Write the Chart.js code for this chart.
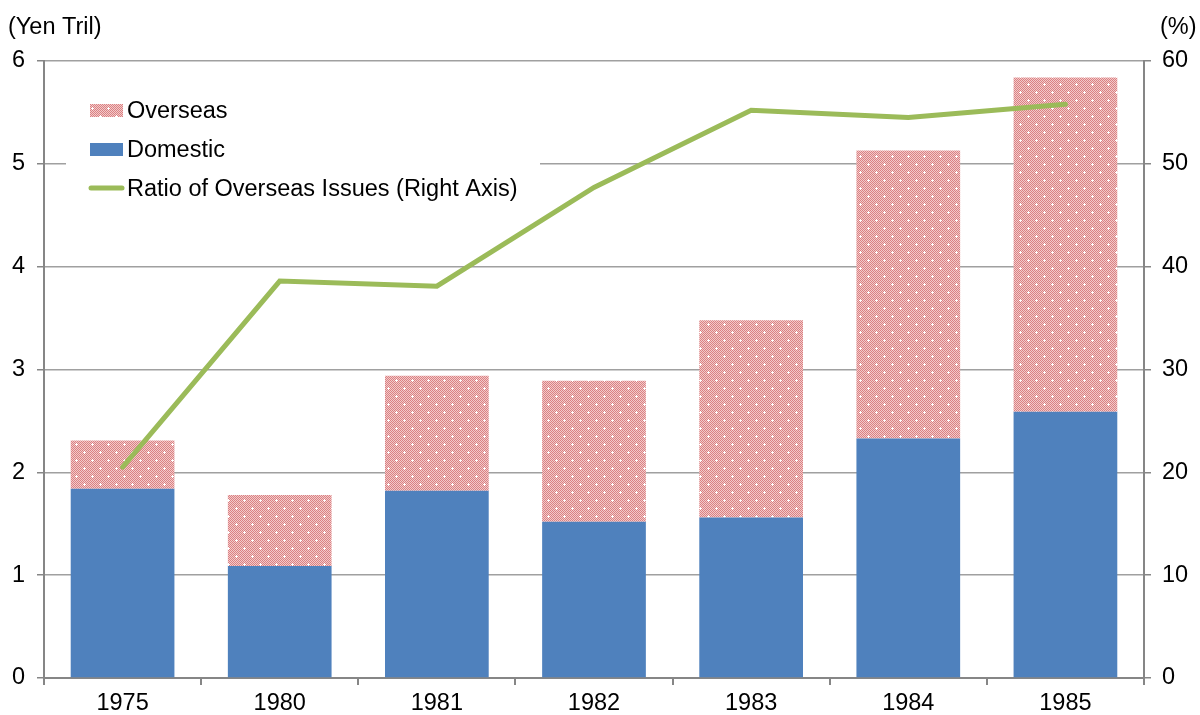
<!DOCTYPE html>
<html>
<head>
<meta charset="utf-8">
<script src="https://cdn.jsdelivr.net/npm/chart.js@4/dist/chart.umd.min.js"></script>
<style>
  html, body { margin: 0; padding: 0; background: #fff; }
  #wrap { position: relative; width: 1200px; height: 715px; }
</style>
</head>
<body>
<div id="wrap"><canvas id="c" width="1200" height="715"></canvas></div>
<script>
// Issues by year, yen trillions (bars) and overseas share, % (line)
const years = ['1975', '1980', '1981', '1982', '1983', '1984', '1985'];
const domestic = [1.84, 1.09, 1.82, 1.52, 1.56, 2.33, 2.59];
const overseas = [0.47, 0.69, 1.12, 1.37, 1.92, 2.80, 3.25];
const overseasRatio = [20.5, 38.6, 38.1, 47.7, 55.2, 54.5, 55.8];
const leftTicks = [0, 1, 2, 3, 4, 5, 6];
const rightTicks = [0, 10, 20, 30, 40, 50, 60];

const FONT = '"Liberation Sans", Arial, sans-serif';
const FS = 23.5;
const BLUE = '#4f81bd';
const GREEN = '#9bbb59';
const AXIS = '#868686';

// Dotted pink fill for the overseas bars
function makePattern() {
  const t = document.createElement('canvas');
  t.width = 16; t.height = 16;
  const g = t.getContext('2d');
  for (let y = 0; y < 16; y++) {
    for (let x = 0; x < 16; x++) {
      g.fillStyle = ((x + y) % 2 === 0) ? '#da8183' : '#f3caca';
      g.fillRect(x, y, 1, 1);
    }
  }
  g.fillStyle = '#ffffff';
  [[4, 4], [12, 12]].forEach(([cx, cy]) => {
    g.fillRect(cx - 1, cy, 3, 1);
    g.fillRect(cx, cy - 1, 1, 3);
  });
  return g.createPattern(t, 'repeat');
}
const pinkPattern = makePattern();

// Legend box drawn inside the plot area, plus the two axis unit captions
const overlay = {
  id: 'overlay',
  afterDraw(chart) {
    const ctx = chart.ctx;
    ctx.save();
    ctx.font = FS + 'px ' + FONT;
    ctx.fillStyle = '#000';
    ctx.textBaseline = 'middle';
    ctx.textAlign = 'left';
    ctx.fillText('(Yen Tril)', 8, 28);
    ctx.fillText('(%)', 1160, 28);
    ctx.restore();
  },
  afterDatasetsDraw(chart) {
    const ctx = chart.ctx;
    ctx.save();
    ctx.fillStyle = '#fff';
    ctx.fillRect(66, 86, 474, 120);
    const items = [
      { label: 'Overseas', kind: 'pattern', y: 110 },
      { label: 'Domestic', kind: 'blue', y: 149 },
      { label: 'Ratio of Overseas Issues (Right Axis)', kind: 'line', y: 188 }
    ];
    ctx.font = FS + 'px ' + FONT;
    ctx.textBaseline = 'middle';
    ctx.textAlign = 'left';
    items.forEach(it => {
      if (it.kind === 'line') {
        ctx.strokeStyle = GREEN;
        ctx.lineWidth = 5;
        ctx.lineCap = 'round';
        ctx.beginPath();
        ctx.moveTo(91, it.y);
        ctx.lineTo(122, it.y);
        ctx.stroke();
      } else {
        ctx.fillStyle = it.kind === 'blue' ? BLUE : pinkPattern;
        ctx.fillRect(90, it.y - 6, 33, 13);
      }
      ctx.fillStyle = '#000';
      ctx.fillText(it.label, 127, it.y + 2);
    });
    ctx.restore();
  }
};

new Chart(document.getElementById('c'), {
  type: 'bar',
  data: {
    labels: years,
    datasets: [
      {
        type: 'line',
        label: 'Ratio of Overseas Issues (Right Axis)',
        data: overseasRatio,
        yAxisID: 'y1',
        borderColor: GREEN,
        backgroundColor: GREEN,
        borderWidth: 5,
        borderCapStyle: 'round',
        borderJoinStyle: 'miter',
        pointRadius: 0,
        tension: 0,
        order: 0
      },
      {
        label: 'Domestic',
        data: domestic,
        backgroundColor: BLUE,
        yAxisID: 'y',
        stack: 's',
        order: 1
      },
      {
        label: 'Overseas',
        data: overseas,
        backgroundColor: pinkPattern,
        yAxisID: 'y',
        stack: 's',
        order: 2
      }
    ]
  },
  options: {
    responsive: false,
    animation: false,
    layout: { padding: { top: 61, left: 0, right: 0, bottom: 0 } },
    datasets: { bar: { categoryPercentage: 1.0, barPercentage: 0.66 } },
    plugins: {
      legend: { display: false },
      tooltip: { enabled: false }
    },
    scales: {
      x: {
        stacked: true,
        offset: true,
        grid: {
          offset: true,
          drawOnChartArea: false,
          drawTicks: true,
          tickLength: 7,
          color: AXIS,
          lineWidth: 2
        },
        border: { display: true, color: AXIS, width: 2 },
        ticks: { color: '#000', font: { family: FONT, size: FS }, padding: 4 },
        afterFit(s) { s.height = 37; }
      },
      y: {
        position: 'left',
        stacked: true,
        min: 0,
        max: 6,
        afterBuildTicks(s) { s.ticks = leftTicks.map(v => ({ value: v })); },
        grid: {
          color: '#a0a0a0',
          lineWidth: 1.5,
          drawTicks: true,
          tickLength: 7,
          tickColor: AXIS
        },
        border: { display: true, color: AXIS, width: 2 },
        ticks: { color: '#000', font: { family: FONT, size: FS }, padding: 12 },
        afterFit(s) { s.width = 44; }
      },
      y1: {
        position: 'right',
        stacked: false,
        min: 0,
        max: 60,
        afterBuildTicks(s) { s.ticks = rightTicks.map(v => ({ value: v })); },
        grid: {
          drawOnChartArea: false,
          drawTicks: true,
          tickLength: 7,
          color: AXIS,
          lineWidth: 1.5
        },
        border: { display: true, color: AXIS, width: 2 },
        ticks: { color: '#000', font: { family: FONT, size: FS }, padding: 11 },
        afterFit(s) { s.width = 56; }
      }
    }
  },
  plugins: [overlay]
});
</script>
</body>
</html>
